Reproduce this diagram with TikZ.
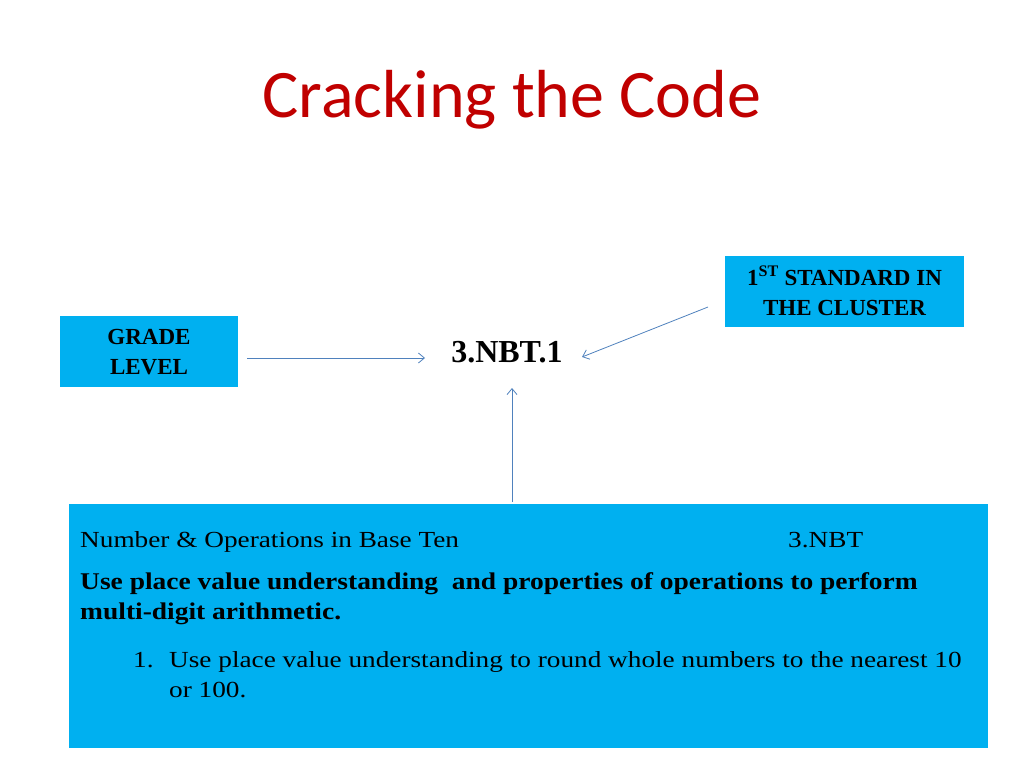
\documentclass[tikz,border=0pt]{standalone}
\usepackage{fontspec}
\setmainfont{Liberation Serif}
\newfontfamily\titlefont{Carlito}
\newfontfamily\bodyreg[FakeStretch=1.185]{Liberation Serif}
\newfontfamily\bodybold[FakeStretch=1.145]{Liberation Serif}
\usetikzlibrary{arrows.meta}
\definecolor{boxblue}{HTML}{00B0F0}
\definecolor{titlered}{HTML}{C00000}
\definecolor{arrowblue}{HTML}{4F81BD}
\begin{document}
\begin{tikzpicture}[x=1pt,y=-1pt,
  bluebox/.style={fill=boxblue,draw=none,inner sep=0pt},
  boxtext/.style={font=\bfseries\fontsize{23}{30}\selectfont,align=center},
  conn/.style={draw=arrowblue,line width=0.8pt,-{Straight Barb[length=6pt,width=10pt]}},
  bodytext/.style={anchor=base west,inner sep=0pt,font=\bodyreg\fontsize{23}{28}\selectfont},
  boldtext/.style={anchor=base west,inner sep=0pt,font=\bodybold\bfseries\fontsize{24}{28}\selectfont}]
\useasboundingbox (0,0) rectangle (1024,768);
\node[font=\titlefont\fontsize{68}{76}\selectfont,text=titlered,anchor=base] (title) at (512,117) {Cracking the Code};
% boxes
\path[bluebox] (60,316) rectangle (238,387);
\node[boxtext] (grade) at (149,352) {GRADE\\LEVEL};
\path[bluebox] (725,256) rectangle (964,327);
\node[boxtext] (first) at (844.5,290.5) {1\textsuperscript{ST} STANDARD IN\\THE CLUSTER};
\node[font=\bfseries\fontsize{32}{36}\selectfont,anchor=base] (nbt) at (507,362) {3.NBT.1};
\path[bluebox] (69,504) rectangle (988,748);
\coordinate (gs) at (247,358);
\coordinate (ge) at (425,358);
\coordinate (fs) at (708,307);
\coordinate (fe) at (582,357);
\coordinate (bs) at (512,502);
\coordinate (be) at (512,388);
\draw[conn] (gs) -- (ge);
\draw[conn] (fs) -- (fe);
\draw[conn] (bs) -- (be);
% body text
\node[bodytext] (l1) at (80,547) {Number \& Operations in Base Ten};
\node[bodytext] (l1b) at (788,547) {3.NBT};
\node[boldtext] (l2) at (80,589) {Use place value understanding\ \ and properties of operations to perform};
\node[boldtext] (l3) at (80,619) {multi-digit arithmetic.};
\node[bodytext] (l4n) at (133,667) {1.};
\node[bodytext] (l4) at (169,667) {Use place value understanding to round whole numbers to the nearest 10};
\node[bodytext] (l5) at (169,697) {or 100.};
\end{tikzpicture}
\end{document}
